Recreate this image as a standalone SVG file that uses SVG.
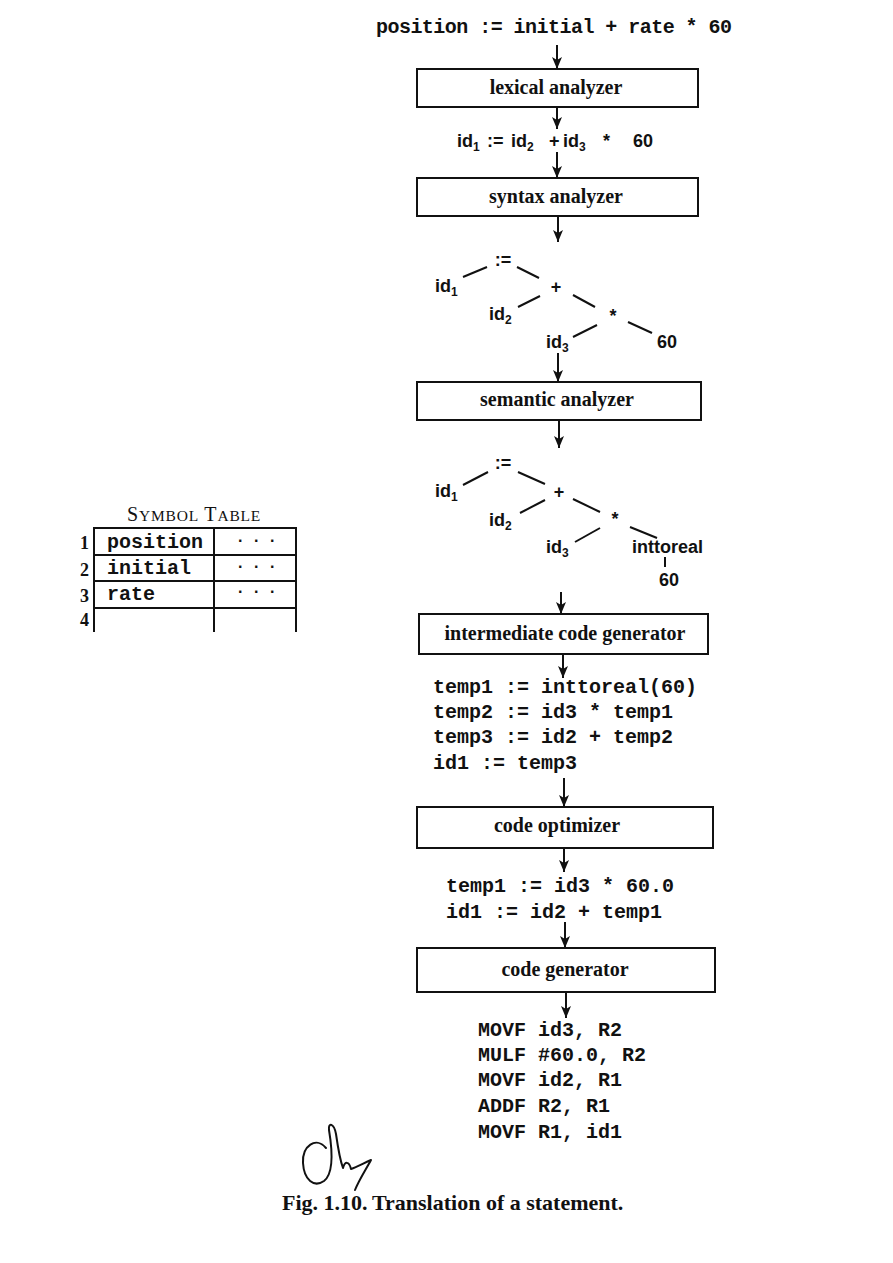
<svg xmlns="http://www.w3.org/2000/svg" width="893" height="1263" viewBox="0 0 893 1263">
  <defs>
    <marker id="ah" markerUnits="userSpaceOnUse" markerWidth="10" markerHeight="12" refX="5" refY="12" orient="0" viewBox="0 0 10 12">
      <path d="M0,0 L5,3 L10,0 L5,12 Z" fill="#111"/>
    </marker>
    <style>
      .box { fill: #fff; stroke: #111; stroke-width: 2; }
      .lbl { font-family: "Liberation Serif", "Times New Roman", serif; font-weight: bold; font-size: 20px; fill: #111; text-anchor: middle; }
      .code { font-family: "Liberation Mono", "Courier New", monospace; font-weight: bold; font-size: 20px; fill: #111; }
      .tree { font-family: "Liberation Sans", Arial, sans-serif; font-weight: bold; font-size: 18px; fill: #111; }
      .sub { font-size: 12px; }
      .edge { stroke: #111; stroke-width: 2; fill: none; }
      .arrow { stroke: #111; stroke-width: 2; fill: none; marker-end: url(#ah); }
      .tbl { stroke: #111; stroke-width: 2; fill: none; }
      .num { font-family: "Liberation Serif", "Times New Roman", serif; font-weight: bold; font-size: 18px; fill: #111; }
      .dots { font-family: "Liberation Sans", Arial, sans-serif; font-weight: bold; font-size: 16px; letter-spacing: 11.5px; fill: #111; }
      .cap { font-family: "Liberation Serif", "Times New Roman", serif; font-weight: bold; font-size: 22px; fill: #111; }
    </style>
  </defs>
  <rect width="893" height="1263" fill="#fff"/>

  <g id="source">
    <text class="code" x="376" y="33" font-size="19" textLength="356">position := initial + rate * 60</text>
  </g>

  <g id="lexical-analyzer">
    <rect class="box" x="417" y="69" width="281" height="38"/>
    <text class="lbl" x="556" y="94">lexical analyzer</text>
  </g>

  <g id="tokens">
    <text class="tree" x="457" y="147">id<tspan class="sub" dy="4">1</tspan></text>
    <text class="tree" x="487" y="147">:=</text>
    <text class="tree" x="511" y="147">id<tspan class="sub" dy="4">2</tspan></text>
    <text class="tree" x="549" y="147">+</text>
    <text class="tree" x="563" y="147">id<tspan class="sub" dy="4">3</tspan></text>
    <text class="tree" x="603" y="147">*</text>
    <text class="tree" x="633" y="147">60</text>
  </g>

  <g id="syntax-analyzer">
    <rect class="box" x="417" y="178" width="281" height="38"/>
    <text class="lbl" x="556" y="203">syntax analyzer</text>
  </g>

  <g id="syntax-tree">
    <text class="tree" x="503" y="266" text-anchor="middle">:=</text>
    <text class="tree" x="435" y="292">id<tspan class="sub" dy="4">1</tspan></text>
    <text class="tree" x="556" y="293" text-anchor="middle">+</text>
    <text class="tree" x="489" y="320">id<tspan class="sub" dy="4">2</tspan></text>
    <text class="tree" x="613" y="322" text-anchor="middle">*</text>
    <text class="tree" x="546" y="348">id<tspan class="sub" dy="4">3</tspan></text>
    <text class="tree" x="657" y="348">60</text>
    <line class="edge" x1="463" y1="277" x2="487" y2="267"/>
    <line class="edge" x1="517" y1="267" x2="539" y2="278"/>
    <line class="edge" x1="518" y1="307" x2="540" y2="296"/>
    <line class="edge" x1="573" y1="295" x2="595" y2="307"/>
    <line class="edge" x1="573" y1="337" x2="597" y2="325"/>
    <line class="edge" x1="628" y1="322" x2="652" y2="333"/>
  </g>

  <g id="semantic-analyzer">
    <rect class="box" x="417" y="382" width="284" height="38"/>
    <text class="lbl" x="557" y="406">semantic analyzer</text>
  </g>

  <g id="annotated-tree">
    <text class="tree" x="503" y="469" text-anchor="middle">:=</text>
    <text class="tree" x="435" y="497">id<tspan class="sub" dy="4">1</tspan></text>
    <text class="tree" x="559" y="498" text-anchor="middle">+</text>
    <text class="tree" x="489" y="526">id<tspan class="sub" dy="4">2</tspan></text>
    <text class="tree" x="615" y="525" text-anchor="middle">*</text>
    <text class="tree" x="546" y="553">id<tspan class="sub" dy="4">3</tspan></text>
    <text class="tree" x="632" y="553" font-size="17">inttoreal</text>
    <text class="tree" x="659" y="586">60</text>
    <line class="edge" x1="463" y1="485" x2="488" y2="472"/>
    <line class="edge" x1="518" y1="472" x2="545" y2="484"/>
    <line class="edge" x1="520" y1="513" x2="545" y2="500"/>
    <line class="edge" x1="573" y1="499" x2="600" y2="512"/>
    <line class="edge" x1="575" y1="542" x2="600" y2="528"/>
    <line class="edge" x1="630" y1="527" x2="657" y2="538"/>
    <line class="edge" x1="665" y1="557" x2="665" y2="567"/>
  </g>

  <g id="symbol-table">
    <text x="127" y="521" font-family="Liberation Serif, Times New Roman, serif" fill="#111" letter-spacing="0.8"><tspan font-size="20">S</tspan><tspan font-size="15.5">YMBOL</tspan><tspan font-size="20"> T</tspan><tspan font-size="15.5">ABLE</tspan></text>
    <line class="tbl" x1="93" y1="528" x2="297" y2="528"/>
    <line class="tbl" x1="93" y1="555" x2="297" y2="555"/>
    <line class="tbl" x1="93" y1="581" x2="297" y2="581"/>
    <line class="tbl" x1="93" y1="608" x2="297" y2="608"/>
    <line class="tbl" x1="94" y1="527" x2="94" y2="632"/>
    <line class="tbl" x1="214" y1="527" x2="214" y2="632"/>
    <line class="tbl" x1="296" y1="527" x2="296" y2="632"/>
    <text class="num" x="80" y="549">1</text>
    <text class="num" x="80" y="576">2</text>
    <text class="num" x="80" y="602">3</text>
    <text class="num" x="80" y="626">4</text>
    <text class="code" x="107" y="548">position</text>
    <text class="code" x="107" y="574">initial</text>
    <text class="code" x="107" y="600">rate</text>
    <text class="dots" x="238" y="542">...</text>
    <text class="dots" x="238" y="568">...</text>
    <text class="dots" x="238" y="593">...</text>
  </g>

  <g id="intermediate-code-generator">
    <rect class="box" x="419" y="614" width="289" height="40"/>
    <text class="lbl" x="565" y="640">intermediate code generator</text>
  </g>

  <g id="intermediate-code">
    <text class="code" x="433" y="693">temp1 := inttoreal(60)</text>
    <text class="code" x="433" y="718">temp2 := id3 * temp1</text>
    <text class="code" x="433" y="743">temp3 := id2 + temp2</text>
    <text class="code" x="433" y="769">id1 := temp3</text>
  </g>

  <g id="code-optimizer">
    <rect class="box" x="417" y="807" width="296" height="41"/>
    <text class="lbl" x="557" y="832">code optimizer</text>
  </g>

  <g id="optimized-code">
    <text class="code" x="446" y="892">temp1 := id3 * 60.0</text>
    <text class="code" x="446" y="918">id1 := id2 + temp1</text>
  </g>

  <g id="code-generator">
    <rect class="box" x="417" y="948" width="298" height="44"/>
    <text class="lbl" x="565" y="976">code generator</text>
  </g>

  <g id="target-code">
    <text class="code" x="478" y="1036">MOVF id3, R2</text>
    <text class="code" x="478" y="1061">MULF #60.0, R2</text>
    <text class="code" x="478" y="1086">MOVF id2, R1</text>
    <text class="code" x="478" y="1112">ADDF R2, R1</text>
    <text class="code" x="478" y="1138">MOVF R1, id1</text>
  </g>

  <g id="connectors">
    <line class="arrow" x1="557" y1="45" x2="557" y2="69"/>
    <line class="arrow" x1="557" y1="107" x2="557" y2="129"/>
    <line class="arrow" x1="557" y1="152" x2="557" y2="178"/>
    <line class="arrow" x1="558" y1="216" x2="558" y2="242"/>
    <line class="arrow" x1="558" y1="353" x2="558" y2="382"/>
    <line class="arrow" x1="559" y1="420" x2="559" y2="448"/>
    <line class="arrow" x1="561" y1="592" x2="561" y2="614"/>
    <line class="arrow" x1="563" y1="654" x2="563" y2="678"/>
    <line class="arrow" x1="564" y1="778" x2="564" y2="807"/>
    <line class="arrow" x1="564" y1="848" x2="564" y2="872"/>
    <line class="arrow" x1="565" y1="922" x2="565" y2="948"/>
    <line class="arrow" x1="566" y1="992" x2="566" y2="1018"/>
  </g>

  <g id="signature">
    <path d="M326,1148 C316,1136 302,1146 303,1163 C304,1180 314,1188 324,1181 C333,1174 333,1154 329,1130 C328,1122 334,1123 336,1134 C338,1148 340,1160 343,1168 C345,1161 349,1161 351,1169 C357,1167 364,1163 371,1160 C365,1171 359,1180 355,1190" fill="none" stroke="#111" stroke-width="2" stroke-linecap="round" stroke-linejoin="round"/>
  </g>

  <g id="caption">
    <text class="cap" x="282" y="1210">Fig. 1.10.<tspan x="372">Translation of a statement.</tspan></text>
  </g>
</svg>
